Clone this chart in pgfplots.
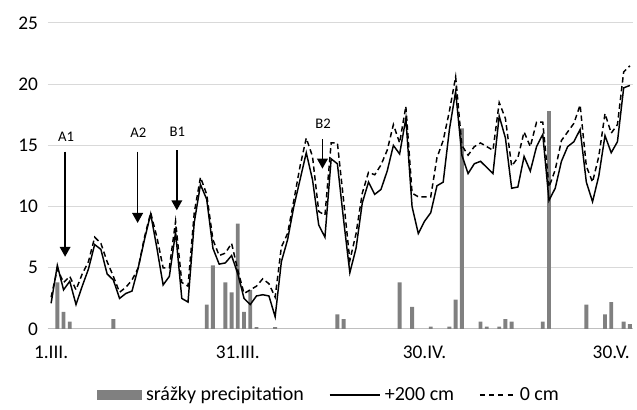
\documentclass[border=0pt]{standalone}
\usepackage{fontspec}
\setmainfont{Carlito}
\usepackage{pgfplots}
\pgfplotsset{compat=1.18}
\usetikzlibrary{arrows.meta}
\definecolor{bargray}{HTML}{808080}
\definecolor{gridgray}{HTML}{D9D9D9}
\definecolor{axgray}{HTML}{BFBFBF}

\pgfplotstableread{
d v
1 3.8
2 1.4
3 0.6
10 0.8
25 2.0
26 5.2
28 3.8
29 3.0
30 8.6
31 1.4
32 3.2
33 0.15
36 0.15
46 1.2
47 0.8
56 3.8
58 1.8
61 0.2
64 0.2
65 2.4
66 16.4
69 0.6
70 0.2
72 0.2
73 0.8
74 0.6
79 0.6
80 17.8
86 2.0
89 1.2
90 2.2
92 0.6
93 0.4
}\precip

\pgfplotstableread{
d s z
0 2.1 2.6
1 5.2 4.9
2 3.2 3.8
3 3.9 4.3
4 2.0 3.2
5 3.5 4.5
6 4.9 5.5
7 6.9 7.5
8 6.5 7.0
9 4.5 5.5
10 4.0 4.3
11 2.5 3.0
12 2.9 3.4
13 3.1 4.0
14 5.0 5.0
15 7.3 7.5
16 9.4 9.5
17 6.6 7.5
18 3.6 5.0
19 4.3 5.0
20 7.9 8.8
21 2.5 3.8
22 2.2 3.5
23 8.7 9.5
24 11.8 12.4
25 10.6 11.0
26 6.6 7.3
27 5.3 6.0
28 5.4 6.2
29 6.0 7.0
30 4.5 4.8
31 2.5 2.9
32 2.0 3.2
33 2.7 3.5
34 2.8 4.1
35 2.7 3.7
36 1.0 2.6
37 5.5 6.7
38 7.3 7.8
39 10.0 10.5
40 12.2 13.3
41 14.4 15.6
42 12.2 14.1
43 8.5 9.6
44 7.5 9.3
45 13.9 15.2
46 13.5 15.2
47 8.9 10.5
48 4.6 5.6
49 6.6 7.8
50 10.3 11.1
51 12.0 12.8
52 11.0 12.6
53 11.4 13.4
54 12.9 14.6
55 15.0 16.7
56 14.3 15.2
57 17.2 18.2
58 10.0 11.1
59 7.8 10.8
60 8.8 10.8
61 9.5 10.8
62 11.7 14.0
63 12.0 15.4
64 16.3 17.8
65 19.4 20.6
66 14.2 15.0
67 12.7 14.2
68 13.5 14.9
69 13.7 15.2
70 13.2 14.9
71 12.7 14.6
72 17.4 18.5
73 15.6 17.2
74 11.5 13.3
75 11.6 14.0
76 14.1 16.1
77 12.9 14.9
78 14.9 16.9
79 15.9 16.9
80 10.5 11.6
81 11.5 13.0
82 13.7 15.4
83 14.9 16.1
84 15.3 16.8
85 16.3 18.3
86 12.0 13.3
87 10.4 12.0
88 12.5 14.1
89 15.8 17.6
90 14.4 16.0
91 15.3 16.7
92 19.7 21.0
93 19.9 21.5
}\temps

\begin{document}
\begin{tikzpicture}
\begin{axis}[
  scale only axis, width=438.75pt, height=229.5pt,
  xmin=-0.5, xmax=93.5, ymin=0, ymax=25,
  xtick={0,30,60,90}, xticklabels={1.III.,31.III.,30.IV.,30.V.},
  ytick={0,5,...,25},
  ymajorgrids, grid style={gridgray, line width=0.75pt},
  axis x line*=bottom, axis y line*=left,
  x axis line style={-, draw=axgray, line width=0.75pt},
  y axis line style={draw=none},
  major tick length=0pt,
  tick label style={font=\fontsize{14.5}{17}\selectfont},
  yticklabel style={xshift=-4pt},
  xticklabel style={yshift=-9.5pt},
  /pgf/number format/assume math mode=true,
  clip=false,
  legend columns=3,
  legend cell align=left,
  legend style={at={(0.482,-0.215)}, anchor=center, draw=none, fill=none,
    font=\fontsize{15}{17}\selectfont,
    nodes={inner sep=2.8pt},
    /tikz/every even column/.append style={column sep=16pt}},
]
\addplot[ybar, bar width=0.62, bar shift=0pt, fill=bargray, draw=none,
  legend image code/.code={\fill[bargray] (0pt,-3.75pt) rectangle (33.75pt,3.75pt);}]
  table[x=d, y=v] {\precip};
\addlegendentry{srážky precipitation}
\addplot[black, line width=1.1pt, mark=none,
  legend image code/.code={\draw[black, line width=1.1pt] (0pt,0pt) -- (38pt,0pt);}]
  table[x=d, y=s] {\temps};
\addlegendentry{+200 cm}
\addplot[black, line width=1.1pt, mark=none, dash pattern=on 4pt off 2.6pt,
  legend image code/.code={\draw[black, line width=1.1pt, dash pattern=on 3.7pt off 3.2pt] (0pt,0pt) -- (26.5pt,0pt);}]
  table[x=d, y=z] {\temps};
\addlegendentry{0 cm}

\draw[-{Triangle[width=8pt,length=7.5pt]}, line width=1.2pt] (axis cs:2.25,14.5) -- (axis cs:2.25,5.9);
\draw[-{Triangle[width=8pt,length=7.5pt]}, line width=1.2pt] (axis cs:13.9,14.5) -- (axis cs:13.9,8.66);
\draw[-{Triangle[width=8pt,length=7.5pt]}, line width=1.2pt] (axis cs:20.2,14.6) -- (axis cs:20.2,9.7);
\draw[-{Triangle[width=8pt,length=7.5pt]}, line width=1.2pt] (axis cs:43.6,15.5) -- (axis cs:43.6,13.1);
\node[font=\fontsize{11}{12}\selectfont] at (axis cs:2.4,15.7) {A1};
\node[font=\fontsize{11}{12}\selectfont] at (axis cs:14.0,16.0) {A2};
\node[font=\fontsize{11}{12}\selectfont] at (axis cs:20.3,16.1) {B1};
\node[font=\fontsize{11}{12}\selectfont] at (axis cs:43.7,16.8) {B2};

\path (rel axis cs:0,0) ++(-36pt,-54.75pt) coordinate (bbA);
\path (rel axis cs:1,1) ++(3pt,17.25pt) coordinate (bbB);
\path (bbA) rectangle (bbB);
\end{axis}
\end{tikzpicture}
\end{document}
